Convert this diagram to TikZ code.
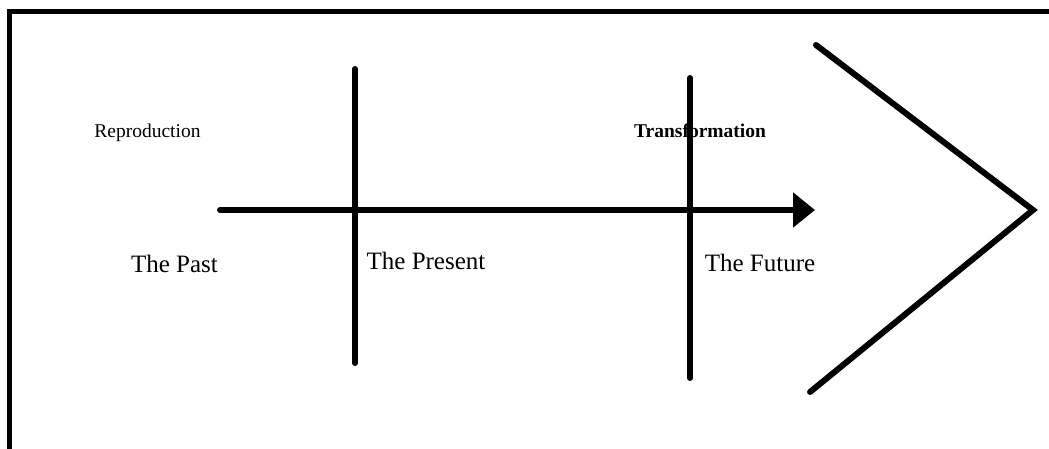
\documentclass[tikz,border=0pt]{standalone}
\usepackage{fontspec}
\setmainfont{Liberation Serif}
\usetikzlibrary{arrows.meta}
\begin{document}
\begin{tikzpicture}[x=1pt,y=-1pt,
  thick line/.style={line width=6pt,line cap=round},
  frame line/.style={line width=5pt},
  small label/.style={anchor=base,inner sep=0pt,font=\fontsize{19.5}{23}\selectfont},
  big label/.style={anchor=base,inner sep=0pt,font=\fontsize{25}{30}\selectfont}]
\useasboundingbox (0,0) rectangle (1049,449);
% frame (top and left edges visible)
\coordinate (fbl) at (9.5,460);
\coordinate (ftl) at (9.5,11.5);
\coordinate (ftr) at (1060,11.5);
\draw[frame line] (fbl) -- (ftl) -- (ftr);
% main arrow
\coordinate (astart) at (220,210);
\coordinate (atip) at (815,210);
\draw[thick line,-{Triangle[length=22pt,width=34pt]}] (astart) -- (atip);
% vertical dividers
\coordinate (v1t) at (355,69);
\coordinate (v1b) at (355,363);
\coordinate (v2t) at (690,78);
\coordinate (v2b) at (690,378);
\draw[thick line] (v1t) -- (v1b);
\draw[thick line] (v2t) -- (v2b);
% chevron
\coordinate (ct) at (816,45);
\coordinate (cm) at (1033,210);
\coordinate (cb) at (810,392);
\draw[thick line,line join=miter] (ct) -- (cm) -- (cb);
% labels
\node[small label] (repro) at (147.5,138) {Reproduction};
\node[small label,font=\fontsize{19.5}{23}\selectfont\bfseries] (trans) at (700,138) {Transformation};
\node[big label] (past) at (174.5,272) {The Past};
\node[big label] (present) at (426,269) {The Present};
\node[big label] (future) at (760,271) {The Future};
\end{tikzpicture}
\end{document}
